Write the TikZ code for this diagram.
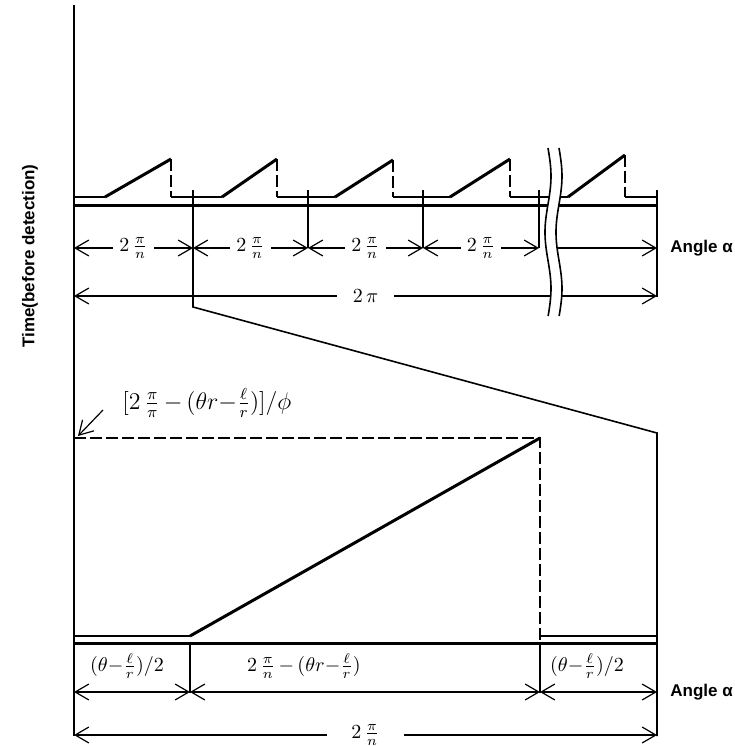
\documentclass[tikz,border=0pt]{standalone}
\usepackage{amsmath}
\usepackage{fontspec}
\setmainfont{Liberation Sans}
\usetikzlibrary{arrows.meta}

\begin{document}
\begin{tikzpicture}[x=0.5pt,y=-0.5pt,>={Straight Barb[length=2.4mm,width=2.8mm]},
  heavy/.style={line width=1.5pt},
  fine/.style={line width=0.8pt},
  dashline/.style={line width=0.9pt,dash pattern=on 6pt off 2pt},
  dim/.style={line width=0.6pt},
  lbl/.style={font=\fontsize{8.5}{10}\selectfont\bfseries,inner sep=1pt},
  mlbl/.style={font=\fontsize{10}{12}\selectfont,inner sep=1pt},
  gap/.style={mlbl,fill=white,inner sep=3pt}]
  \useasboundingbox (0,0) rectangle (735,746);

  % time axis
  \coordinate (ax0) at (74,5);
  \coordinate (ax1) at (74,736);
  \draw[line width=1pt] (ax0) -- (ax1);
  \node[lbl,rotate=90] (tlabel) at (30,256) {Time(before detection)};

  % upper pulse train
  \draw[heavy] (74,205) -- (657,205);
  \draw[fine] (74,197) -- (105,197) (171,197) -- (222,197) (277,197) -- (335,197)
    (393,197) -- (450,197) (510,197) -- (552,197) (552,197) -- (568,197) (625,197) -- (657,197);
  \draw[heavy] (105,197) -- (171,159) (222,197) -- (277,159) (335,197) -- (393,160)
    (450,197) -- (510,159) (568,197) -- (625,155);
  \draw[dashline] (171,159) -- (171,197) (277,159) -- (277,197) (393,160) -- (393,197)
    (510,159) -- (510,197) (625,155) -- (625,197);

  % extension lines
  \draw[fine] (193,190) -- (193,307) -- (657,433) -- (657,736);
  \draw[fine] (308,190) -- (308,248) (423,190) -- (423,248) (539,190) -- (539,248);
  \draw[fine] (657,190) -- (657,297);

  % period dimensions
  \coordinate (a0) at (74,248);
  \coordinate (a1) at (193,248);
  \coordinate (a2) at (308,248);
  \coordinate (a3) at (423,248);
  \coordinate (a4) at (539,248);
  \coordinate (a5) at (558,248);
  \coordinate (a6) at (657,248);
  \draw[dim,<->] (a0) -- node[gap] (p1) {$2\,\frac{\pi}{n}$} (a1);
  \draw[dim,<->] (a1) -- node[gap] (p2) {$2\,\frac{\pi}{n}$} (a2);
  \draw[dim,<->] (a2) -- node[gap] (p3) {$2\,\frac{\pi}{n}$} (a3);
  \draw[dim,<->] (a3) -- node[gap] (p4) {$2\,\frac{\pi}{n}$} (a4);
  \draw[dim,->] (a5) -- (a6);
  \node[lbl,anchor=west] (ang1) at (668,248) {Angle α};

  \coordinate (b0) at (74,296);
  \coordinate (b1) at (657,296);
  \draw[dim,<->] (b0) -- node[gap,inner xsep=8pt] (full1) {$2\,\pi$} (b1);

  % break
  \fill[white] plot[domain=148:316,samples=40] ({548+3*sin((\x-148)*3.2)},\x)
    -- plot[domain=316:148,samples=40] ({559+3*sin((\x-148)*3.2)},\x) -- cycle;
  \draw[fine] plot[domain=148:316,samples=40] ({548+3*sin((\x-148)*3.2)},\x);
  \draw[fine] plot[domain=148:316,samples=40] ({559+3*sin((\x-148)*3.2)},\x);

  % lower pulse
  \coordinate (d0) at (74,438);
  \coordinate (d1) at (540,438);
  \draw[dashline] (d0) -- (d1) -- (540,643);
  \draw[heavy] (190,636) -- (d1);
  \draw[fine] (74,636) -- (190,636) (540,636) -- (657,636);
  \draw[heavy] (74,643) -- (657,643);
  \draw[fine] (190,643) -- (190,693) (540,643) -- (540,693);

  \node[mlbl,font=\fontsize{11.5}{13}\selectfont,anchor=west] (lvl) at (120,403)
    {$[2\,\frac{\pi}{\pi}\,{-}\,(\theta r{-}\frac{\ell}{r})]/\phi$};
  \coordinate (lv0) at (103,410);
  \coordinate (lv1) at (78,436);
  \draw[dim,->] (lv0) -- (lv1);

  % lower dimensions
  \coordinate (c0) at (74,692);
  \coordinate (c1) at (190,692);
  \coordinate (c2) at (540,692);
  \coordinate (c3) at (657,692);
  \draw[dim,<->] (c0) -- (c1);
  \draw[dim,<->] (c1) -- (c2);
  \draw[dim,<->] (c2) -- (c3);
  \node[mlbl] (w1) at (127,666) {$(\theta{-}\frac{\ell}{r})/2$};
  \node[mlbl] (w2) at (304,666) {$2\,\frac{\pi}{n}\,{-}\,(\theta r{-}\frac{\ell}{r})$};
  \node[mlbl] (w3) at (587,666) {$(\theta{-}\frac{\ell}{r})/2$};
  \node[lbl,anchor=west] (ang2) at (668,692) {Angle α};

  \coordinate (e0) at (74,735);
  \coordinate (e1) at (657,735);
  \draw[dim,<->] (e0) -- node[gap,inner xsep=12pt] (full2) {$2\,\frac{\pi}{n}$} (e1);
\end{tikzpicture}
\end{document}
